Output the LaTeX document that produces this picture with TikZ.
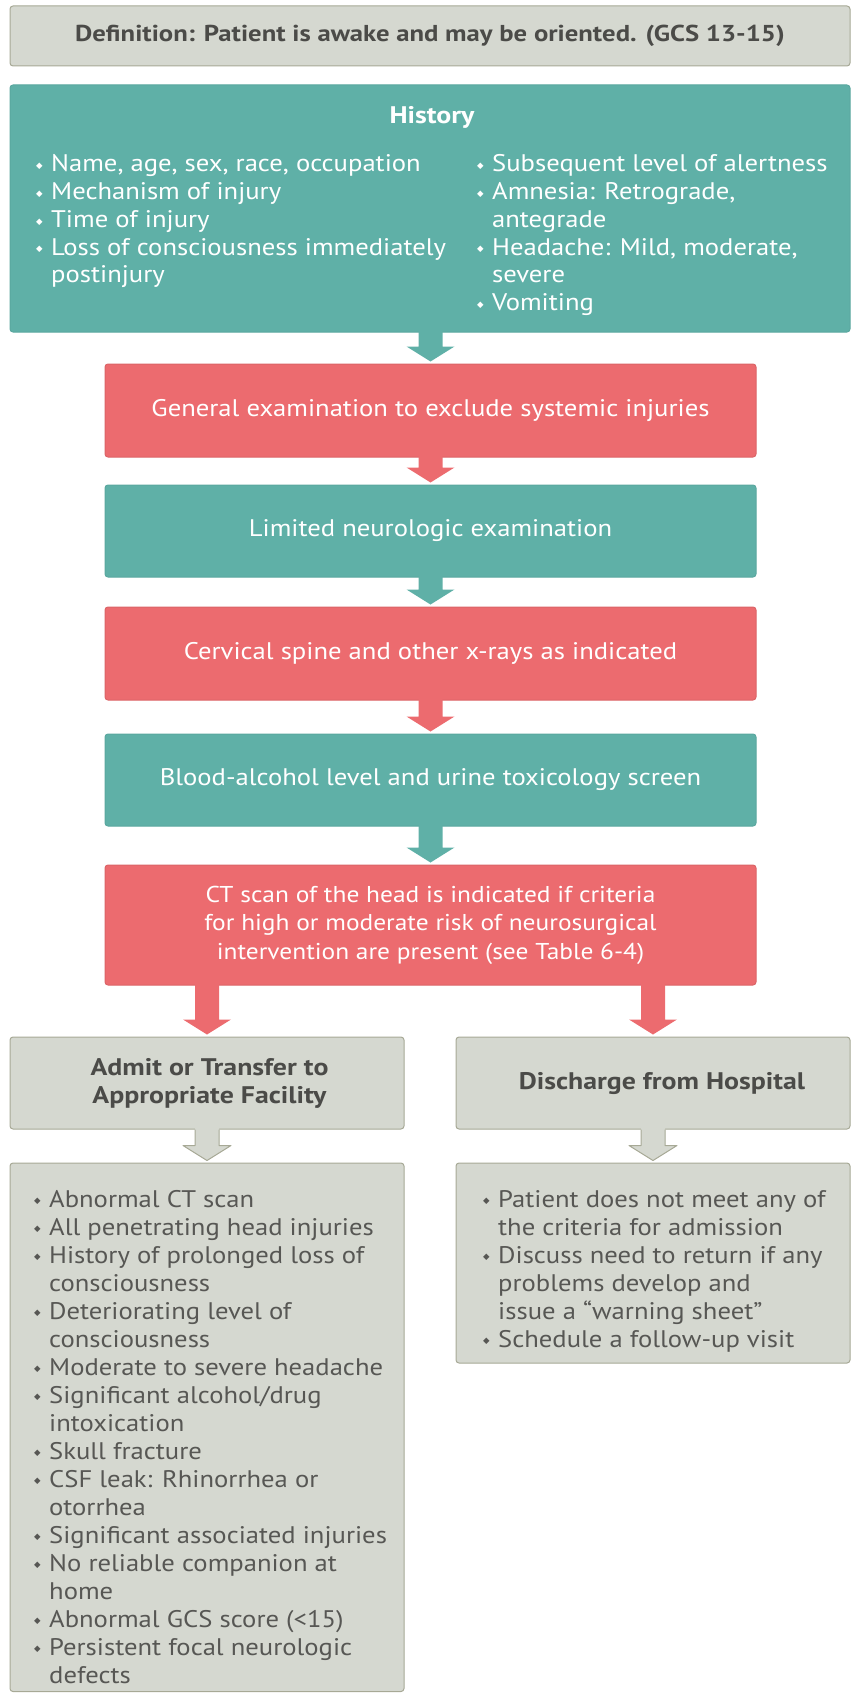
\documentclass[tikz,border=0pt]{standalone}
\usepackage{fontspec}
\setmainfont{PT Sans}[FakeStretch=1.11]
\newfontfamily\headfont{PT Sans}[FakeStretch=1.16]
\newfontfamily\symfont{DejaVu Sans}
\usetikzlibrary{calc}
\definecolor{tealc}{HTML}{5FB0A7}
\definecolor{redc}{HTML}{EC6B6F}
\definecolor{greyf}{HTML}{D5D8D0}
\definecolor{greyb}{HTML}{A7A996}
\definecolor{txtg}{HTML}{575754}
\definecolor{txth}{HTML}{4B4B48}
\newcommand\bul{\makebox[15pt][l]{\raisebox{3.3pt}{\symfont\fontsize{8.5}{8.5}\selectfont ◆}}}
\newcommand\cont{\hspace*{15pt}}
\newcommand\fatarrow[3]{%
  \fill[#1] let \p1=(#2.south -| #3.north), \p2=(#3.north) in
    (\x2-12pt,\y1+1.5pt) -- (\x2-12pt,\y2+17pt) -- (\x2-24pt,\y2+17pt) -- (\x2,\y2+2pt)
    -- (\x2+24pt,\y2+17pt) -- (\x2+12pt,\y2+17pt) -- (\x2+12pt,\y1+1.5pt) -- cycle;}
\newcommand\hollowarrow[2]{%
  \fill[greyf] let \p1=(#1.south -| #2.north), \p2=(#2.north) in
    (\x2-12pt,\y1+1.5pt) -- (\x2-12pt,\y2+17pt) -- (\x2-24pt,\y2+17pt) -- (\x2,\y2+2pt)
    -- (\x2+24pt,\y2+17pt) -- (\x2+12pt,\y2+17pt) -- (\x2+12pt,\y1+1.5pt) -- cycle;
  \draw[greyb, line width=1pt, line join=round] let \p1=(#1.south -| #2.north), \p2=(#2.north) in
    (\x2-12pt,\y1) -- (\x2-12pt,\y2+17pt) -- (\x2-24pt,\y2+17pt) -- (\x2,\y2+2pt)
    -- (\x2+24pt,\y2+17pt) -- (\x2+12pt,\y2+17pt) -- (\x2+12pt,\y1);}
\tikzset{
  box/.style={rectangle, rounded corners=3pt, inner sep=0pt, line width=1pt},
  greybox/.style={box, fill=greyf, draw=greyb},
  tealbox/.style={box, fill=tealc, draw=tealc!95!black, text=white, font=\fontsize{24}{28.5}\selectfont},
  redbox/.style={box, fill=redc, draw=redc!93!black, text=white, font=\fontsize{24}{28.5}\selectfont},
  headtxt/.style={inner sep=0pt, font=\headfont\bfseries\fontsize{24}{28}\selectfont, align=center},
  listtxt/.style={anchor=base west, inner sep=0pt, font=\fontsize{24}{28}\selectfont},
}
\begin{document}
\begin{tikzpicture}[x=1pt,y=-1pt]
\useasboundingbox (0,0) rectangle (854,1693);
% boxes
\node[greybox, minimum width=840, minimum height=60, text=txth, headtxt, font=\headfont\bfseries\fontsize{23}{28}\selectfont] (def) at (430,36)
  {Definition: Patient is awake and may be oriented. (GCS 13-15)};
\node[tealbox, minimum width=840, minimum height=247] (hist) at (430,208.5) {};
\node[headtxt, text=white] (histt) at (432,117) {History};
\node[listtxt, text=white, font=\fontsize{24}{27.7}\selectfont] (hl) at (36,172) {\parbox[t]{600pt}{\raggedright
  \bul Name, age, sex, race, occupation\\
  \bul Mechanism of injury\\
  \bul Time of injury\\
  \bul Loss of consciousness immediately\\
  \cont postinjury}};
\node[listtxt, text=white, font=\fontsize{24}{27.7}\selectfont] (hr) at (477,172) {\parbox[t]{600pt}{\raggedright
  \bul Subsequent level of alertness\\
  \bul Amnesia: Retrograde,\\
  \cont antegrade\\
  \bul Headache: Mild, moderate,\\
  \cont severe\\
  \bul Vomiting}};
\node[redbox, minimum width=651, minimum height=93] (gen) at (430.5,410.5)
  {General examination to exclude systemic injuries};
\node[tealbox, minimum width=651, minimum height=92] (lim) at (430.5,531)
  {Limited neurologic examination};
\node[redbox, minimum width=651, minimum height=93] (cerv) at (430.5,653.5)
  {Cervical spine and other x-rays as indicated};
\node[tealbox, minimum width=651, minimum height=92] (blood) at (430.5,780)
  {Blood-alcohol level and urine toxicology screen};
\node[redbox, minimum width=651, minimum height=120, align=center, font=\fontsize{22.9}{28.5}\selectfont] (ct) at (430.5,925)
  {CT scan of the head is indicated if criteria\\for high or moderate risk of neurosurgical\\intervention are present (see Table 6-4)};
\node[greybox, minimum width=394, minimum height=92, text=txth, headtxt] (admit) at (207,1083)
  {\hspace*{5pt}Admit or Transfer to\\\hspace*{5pt}Appropriate Facility};
\node[greybox, minimum width=394, minimum height=92, text=txth, headtxt] (disch) at (653,1083)
  {\hspace*{18pt}Discharge from Hospital};
\node[greybox, minimum width=394, minimum height=528.5] (adml) at (207,1427.25) {};
\node[greybox, minimum width=394, minimum height=200] (disl) at (653,1263) {};
\node[listtxt, text=txtg] (al) at (34,1207) {\parbox[t]{600pt}{\raggedright
  \bul Abnormal CT scan\\
  \bul All penetrating head injuries\\
  \bul History of prolonged loss of\\
  \cont consciousness\\
  \bul Deteriorating level of\\
  \cont consciousness\\
  \bul Moderate to severe headache\\
  \bul Significant alcohol/drug\\
  \cont intoxication\\
  \bul Skull fracture\\
  \bul CSF leak: Rhinorrhea or\\
  \cont otorrhea\\
  \bul Significant associated injuries\\
  \bul No reliable companion at\\
  \cont home\\
  \bul Abnormal GCS score (<15)\\
  \bul Persistent focal neurologic\\
  \cont defects}};
\node[listtxt, text=txtg] (dl) at (483,1207) {\parbox[t]{600pt}{\raggedright
  \bul Patient does not meet any of\\
  \cont the criteria for admission\\
  \bul Discuss need to return if any\\
  \cont problems develop and\\
  \cont issue a “warning sheet”\\
  \bul Schedule a follow-up visit}};
% arrows
\fatarrow{tealc}{hist}{gen}
\fatarrow{redc}{gen}{lim}
\fatarrow{tealc}{lim}{cerv}
\fatarrow{redc}{cerv}{blood}
\fatarrow{tealc}{blood}{ct}
\fatarrow{redc}{ct}{admit}
\fatarrow{redc}{ct}{disch}
\hollowarrow{admit}{adml}
\hollowarrow{disch}{disl}
\end{tikzpicture}
\end{document}
